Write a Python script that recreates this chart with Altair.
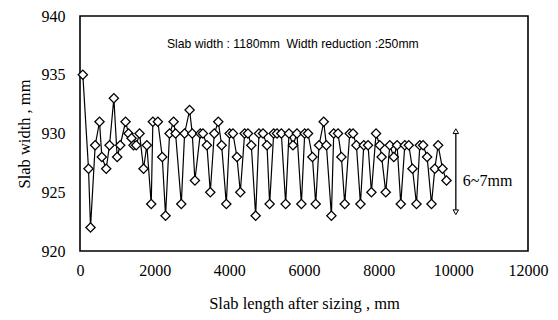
import altair as alt
import pandas as pd

# Slab length after sizing (mm) and measured slab width (mm)
length = [76, 228, 282, 407, 523, 585, 702, 791, 907, 996, 1077, 1220, 1300, 1381, 1434,
          1506, 1595, 1702, 1791, 1908, 1952, 2086, 2203, 2292, 2399, 2507, 2560, 2713,
          2802, 2936, 3007, 3078, 3222, 3293, 3400, 3490, 3597, 3704, 3794, 3919, 4008,
          4097, 4204, 4294, 4410, 4499, 4589, 4705, 4794, 4902, 5009, 5080, 5188, 5277,
          5393, 5509, 5598, 5705, 5812, 5930, 6019, 6108, 6225, 6314, 6403, 6528, 6600,
          6734, 6796, 6912, 7002, 7091, 7225, 7314, 7404, 7512, 7601, 7716, 7806, 7930,
          8029, 8080, 8190, 8298, 8405, 8494, 8592, 8700, 8807, 8906, 9013, 9102, 9191,
          9298, 9415, 9504, 9593, 9710, 9817]
width = [935, 927, 922, 929, 931, 928, 927, 929, 933, 928, 929, 931, 930, 929.6, 929,
         929, 930, 927, 929, 924, 931, 931, 928, 923, 930, 931, 930, 924,
         930, 932, 930, 926, 930, 930, 929, 925, 930, 931, 929, 924, 930,
         930, 928, 925, 930, 930, 929, 923, 930, 930, 929, 924, 930, 930,
         930, 924, 930, 929, 930, 924, 930, 930, 928, 924, 929, 931, 929,
         923, 930, 930, 928, 924, 930, 930, 929, 924, 929, 929, 925, 930,
         929, 928, 925, 929, 928, 929, 924, 929, 929, 927, 924, 929, 929,
         928, 924, 927, 929, 927, 926]

x_ticks = [0, 2000, 4000, 6000, 8000, 10000, 12000]
y_ticks = [920, 925, 930, 935, 940]

note_text = ["Slab width : 1180mm\u00a0\u00a0Width reduction :250mm"]
note_x = [5700]
note_y = [937.6]

arrow_x = [10067]
arrow_top = [930.2]
arrow_bottom = [923.3]
range_label = ["6~7mm"]
range_label_y = [926.0]

df = pd.DataFrame({"length": length, "width": width})

xscale = alt.Scale(domain=[0, 12000], nice=False, zero=False)
yscale = alt.Scale(domain=[920, 940], nice=False, zero=False)

SERIF = "Liberation Serif"
x_axis = alt.Axis(values=x_ticks, title="Slab length after sizing , mm", grid=False,
                  ticks=False, domain=False, labelPadding=11, titlePadding=17,
                  labelFlush=False, labelOverlap=False, format="d",
                  labelFont=SERIF, titleFont=SERIF, labelFontSize=16,
                  titleFontSize=16.5, titleFontWeight="normal",
                  labelColor="black", titleColor="black")
y_axis = alt.Axis(values=y_ticks, title="Slab width , mm", grid=False, ticks=False,
                  domain=False, labelPadding=15, titlePadding=9, labelOverlap=False,
                  labelFont=SERIF, titleFont=SERIF, labelFontSize=16,
                  titleFontSize=16.5, titleFontWeight="normal",
                  labelColor="black", titleColor="black")

base = alt.Chart(df)
line = base.mark_line(color="black", strokeWidth=1.2).encode(
    x=alt.X("length:Q", scale=xscale, axis=x_axis),
    y=alt.Y("width:Q", scale=yscale, axis=y_axis),
)
pts = base.mark_point(shape="diamond", filled=True, fill="white", stroke="black",
                      strokeWidth=1.3, size=85, opacity=1).encode(
    x=alt.X("length:Q", scale=xscale),
    y=alt.Y("width:Q", scale=yscale),
)

note_df = pd.DataFrame({"x": note_x, "y": note_y, "t": note_text})
note = alt.Chart(note_df).mark_text(font="Liberation Sans", fontSize=12.2,
                                    color="black").encode(
    x=alt.X("x:Q", scale=xscale), y=alt.Y("y:Q", scale=yscale), text="t:N")

arr_df = pd.DataFrame({"x": arrow_x, "y1": arrow_top, "y2": arrow_bottom,
                       "t": range_label, "ty": range_label_y})
rule = alt.Chart(arr_df).mark_rule(color="black", strokeWidth=1.3).encode(
    x=alt.X("x:Q", scale=xscale), y=alt.Y("y1:Q", scale=yscale), y2="y2:Q")
head_up = alt.Chart(arr_df).mark_point(shape="triangle-up", filled=True, fill="white",
                                       stroke="black", strokeWidth=1, size=30,
                                       opacity=1).encode(
    x=alt.X("x:Q", scale=xscale), y=alt.Y("y1:Q", scale=yscale))
head_dn = alt.Chart(arr_df).mark_point(shape="triangle-down", filled=True, fill="white",
                                       stroke="black", strokeWidth=1, size=30,
                                       opacity=1).encode(
    x=alt.X("x:Q", scale=xscale), y=alt.Y("y2:Q", scale=yscale))
rtext = alt.Chart(arr_df).mark_text(font=SERIF, fontSize=16, align="left",
                                    dx=7, color="black").encode(
    x=alt.X("x:Q", scale=xscale), y=alt.Y("ty:Q", scale=yscale), text="t:N")

chart = alt.layer(line, pts, note, rule, head_up, head_dn, rtext).properties(
    width=448, height=235,
    autosize=alt.AutoSizeParams(type="none"),
    padding={"left": 80, "top": 16, "right": 30, "bottom": 69},
    background="white",
).configure_view(
    stroke="black", strokeWidth=1.6
)

chart.save("out.html", embed_options={"renderer": "svg", "actions": False})
